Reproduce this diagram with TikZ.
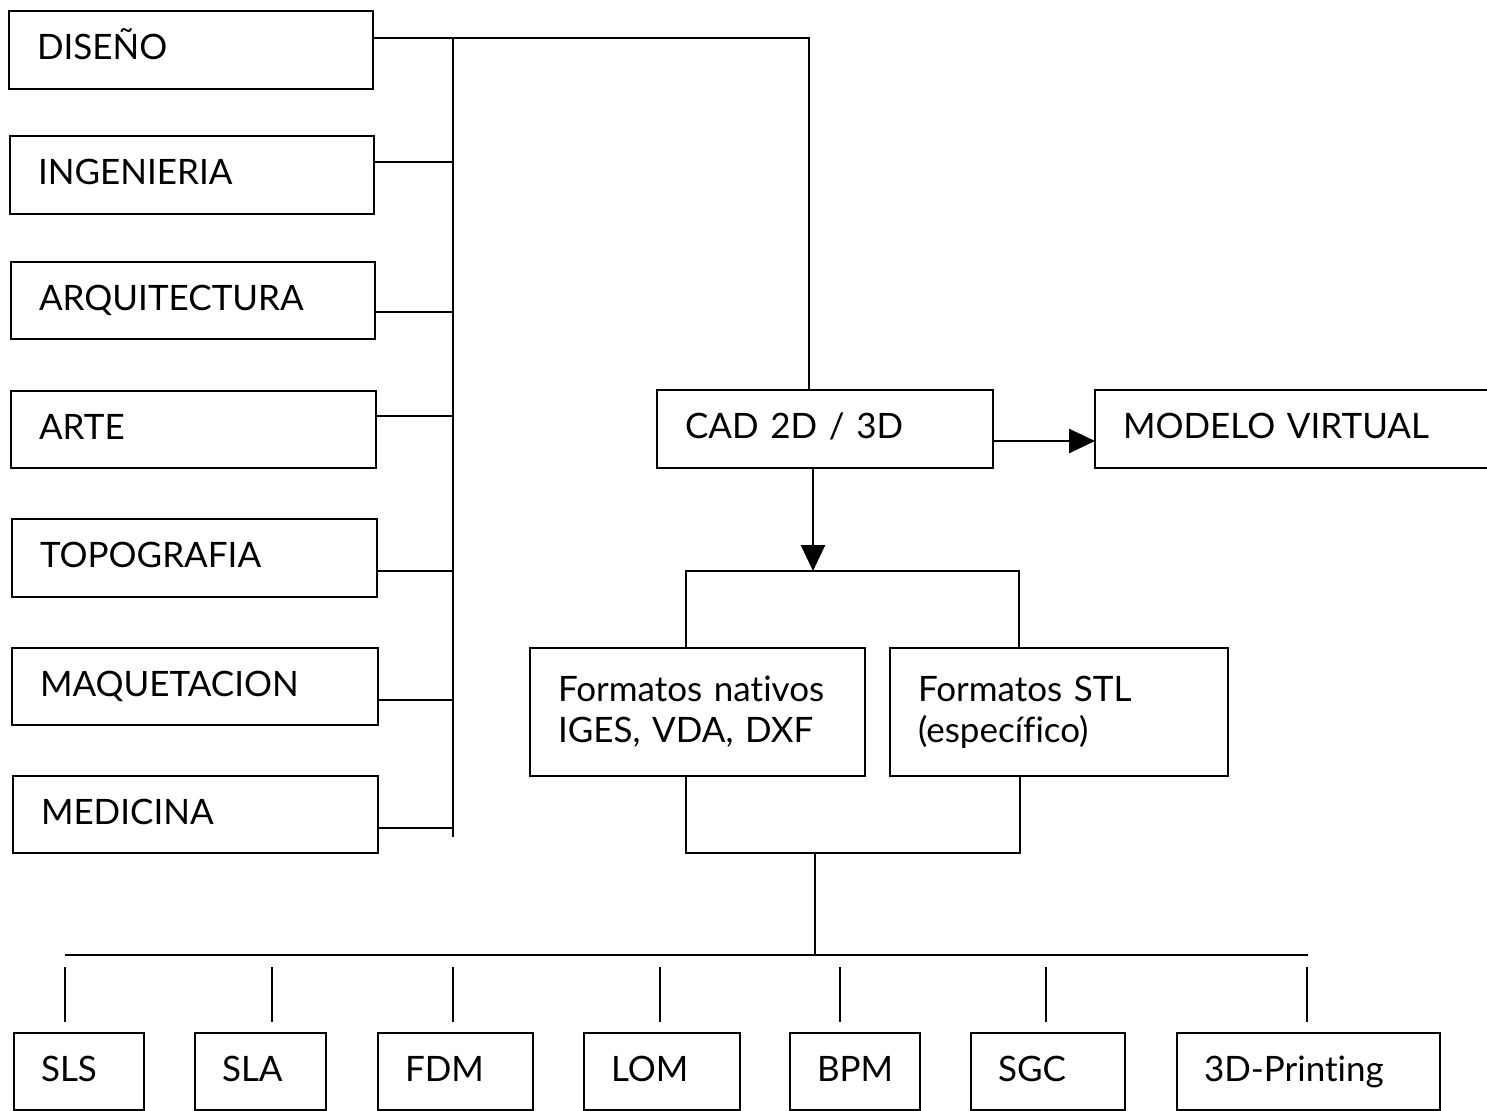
\documentclass[tikz,border=0pt]{standalone}
\usepackage{fontspec}
\setmainfont{Lato}[Ligatures=NoCommon]
\usetikzlibrary{arrows.meta}

\begin{document}
\begin{tikzpicture}[x=1pt,y=-1pt,
  box/.style={draw, line width=2.6pt, anchor=north west, inner xsep=28pt,
    inner ysep=0pt, outer sep=0pt, align=left, text height=27pt, text depth=8pt,
    font=\fontsize{35}{41}\selectfont},
  twoline/.style={box, text height=, text depth=},
  link/.style={line width=2.6pt},
  arr/.style={link, -{Triangle[length=26pt,width=24pt]}},
]
\useasboundingbox (0,0) rectangle (1487,1110);

% application fields
\node[box, text width=308pt, minimum height=78pt] (diseno)       at (9,11)   {DISEÑO};
\node[box, text width=308pt, minimum height=78pt] (ingenieria)   at (10,136) {INGENIERIA};
\node[box, text width=308pt, minimum height=77pt] (arquitectura) at (11,262) {ARQUITECTURA};
\node[box, text width=309pt, minimum height=77pt] (arte)         at (11,391) {ARTE};
\node[box, text width=309pt, minimum height=78pt] (topografia)   at (12,519) {TOPOGRAFIA};
\node[box, text width=310pt, minimum height=77pt] (maquetacion)  at (12,648) {MAQUETACION};
\node[box, text width=309pt, minimum height=77pt] (medicina)     at (13,776) {MEDICINA};

% CAD and model
\node[box, text width=280pt, minimum height=78pt] (cad) at (657,390) {CAD 2D / 3D};
\node[box, text width=344pt, minimum height=78pt] (modelo) at (1095,390) {MODELO VIRTUAL};

% file formats
\node[twoline, text width=279pt, minimum height=128pt] (nativos) at (530,648)
  {Formatos nativos\\IGES, VDA, DXF};
\node[twoline, text width=282pt, minimum height=128pt] (stl) at (890,648)
  {Formatos STL\\(específico)};

% manufacturing processes
\node[box, inner xsep=27pt, text width=76pt,  minimum height=77pt] (sls)   at (14,1033)   {SLS};
\node[box, inner xsep=27pt, text width=77pt,  minimum height=77pt] (sla)   at (195,1033)  {SLA};
\node[box, inner xsep=27pt, text width=101pt, minimum height=77pt] (fdm)   at (378,1033)  {FDM};
\node[box, inner xsep=27pt, text width=102pt, minimum height=77pt] (lom)   at (584,1033)  {LOM};
\node[box, inner xsep=27pt, text width=76pt,  minimum height=77pt] (bpm)   at (790,1033)  {BPM};
\node[box, inner xsep=27pt, text width=100pt, minimum height=77pt] (sgc)   at (971,1033)  {SGC};
\node[box, inner xsep=27pt, text width=209pt, minimum height=77pt] (print) at (1177,1033) {3D-Printing};

% left collecting bus
\coordinate (t1) at (453,38);
\coordinate (t2) at (453,162);
\coordinate (t3) at (453,312);
\coordinate (t4) at (453,416);
\coordinate (t5) at (453,571);
\coordinate (t6) at (453,700);
\coordinate (t7) at (453,828);
\coordinate (busend) at (453,837);
\coordinate (corner) at (809,38);

\draw[link] (t1) -- (busend);
\draw[link] (diseno.east |- t1) -- (corner) -- (corner |- cad.north);
\draw[link] (ingenieria.east |- t2) -- (t2);
\draw[link] (arquitectura.east |- t3) -- (t3);
\draw[link] (arte.east |- t4) -- (t4);
\draw[link] (topografia.east |- t5) -- (t5);
\draw[link] (maquetacion.east |- t6) -- (t6);
\draw[link] (medicina.east |- t7) -- (t7);

% CAD outputs
\coordinate (mv) at (1000,441);
\draw[arr] (cad.east |- mv) -- (modelo.west |- mv);

\coordinate (brL) at (686,571);
\coordinate (brM) at (813,571);
\coordinate (brR) at (1019,571);
\draw[arr] (cad.south -| brM) -- (brM);
\draw[link] (nativos.north -| brL) -- (brL) -- (brR) -- (stl.north -| brR);

% formats to processes
\coordinate (bL) at (686,853);
\coordinate (bR) at (1020,853);
\coordinate (trunk) at (815,853);
\coordinate (busL) at (65,955);
\coordinate (busR) at (1308,955);
\draw[link] (nativos.south -| bL) -- (bL) -- (bR) -- (stl.south -| bR);
\draw[link] (trunk) -- (trunk |- busL);
\draw[link] (busL) -- (busR);

\foreach \n/\x in {sls/65, sla/272, fdm/453, lom/660, bpm/840, sgc/1046, print/1307} {
  \coordinate (d-\n) at (\x,955);
  \draw[link, shorten <=12pt, shorten >=11pt] (d-\n) -- (\n.north -| d-\n);
}
\end{tikzpicture}
\end{document}
